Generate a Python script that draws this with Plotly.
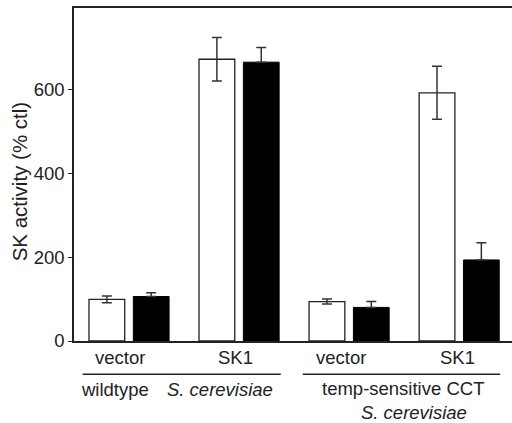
import plotly.graph_objects as go

# ---- data ----
x_pos = [0, 1, 2, 3]
cat_labels = ["vector", "SK1", "vector", "SK1"]
white_vals = [99, 671, 94, 591]
white_err = [8, 52, 6, 63]
black_vals = [106, 664, 80, 193]
black_err = [9, 35, 14, 41]
y_ticks = [0, 200, 400, 600]
y_title = "SK activity (% ctl)"

FONT = "Liberation Sans, Arial, sans-serif"
FS = 18.5
ERRC = "#333333"

fig = go.Figure()
fig.add_trace(go.Bar(
    x=x_pos, y=white_vals, width=0.325, offset=-0.364,
    marker=dict(color="white", line=dict(color="#222222", width=1.3)),
    error_y=dict(type="data", array=white_err, color=ERRC, thickness=1.5, width=5),
    showlegend=False, hoverinfo="skip"))
fig.add_trace(go.Bar(
    x=x_pos, y=black_vals, width=0.325, offset=0.039,
    marker=dict(color="black", line=dict(color="black", width=1)),
    error_y=dict(type="data", array=black_err, arrayminus=[0, 0, 0, 0],
                 symmetric=False, color=ERRC, thickness=1.5, width=5),
    showlegend=False, hoverinfo="skip"))

# category labels (slightly left of group centres as in the original)
label_shift = [-0.082, -0.03, -0.077, -0.014]
for xp, lab, sh in zip(x_pos, cat_labels, label_shift):
    fig.add_annotation(x=xp + sh, y=-0.051, xref="x", yref="paper", text=lab,
                       showarrow=False, font=dict(family=FONT, size=FS, color="#222"),
                       xanchor="center", yanchor="middle")

# group lines
for x0, x1 in [(-0.421, 1.379), (1.579, 3.373)]:
    fig.add_shape(type="line", xref="x", yref="paper", x0=x0, x1=x1, y0=-0.1, y1=-0.1,
                  line=dict(color="#222", width=1.5))

group_text = [
    (-0.132, -0.147, "wildtype"),
    (0.83, -0.147, "<i>S. cerevisiae</i>"),
    (2.489, -0.144, "temp-sensitive CCT"),
    (2.585, -0.214, "<i>S. cerevisiae</i>"),
]
for xp, yp, t in group_text:
    fig.add_annotation(x=xp, y=yp, xref="x", yref="paper", text=t, showarrow=False,
                       font=dict(family=FONT, size=FS, color="#222"),
                       xanchor="center", yanchor="middle")

# y-axis title
fig.add_annotation(x=-0.1244, y=0.478, xref="paper", yref="paper", text=y_title,
                   textangle=-90, showarrow=False,
                   font=dict(family=FONT, size=20.5, color="#222"),
                   xanchor="center", yanchor="middle")

fig.update_layout(
    width=512, height=423,
    margin=dict(l=74, r=0, t=8, b=82),
    paper_bgcolor="white", plot_bgcolor="white",
    barmode="overlay",
    font=dict(family=FONT, size=FS, color="#222"),
    xaxis=dict(range=[-0.5, 3.48], showticklabels=False, ticks="", showgrid=False,
               zeroline=False, showline=True, linecolor="#222", linewidth=1.5, mirror=True,
               automargin=False),
    yaxis=dict(range=[0, 793], tickvals=y_ticks, ticks="outside", ticklen=4,
               tickcolor="#222", tickwidth=1.2, showgrid=False, zeroline=False,
               showline=True, linecolor="#222", linewidth=1.5, automargin=False,
               tickfont=dict(size=FS)),
)

fig.write_html("out.html", config={"displayModeBar": False},
               post_script="document.body.style.margin='0';document.body.style.overflow='hidden';")
